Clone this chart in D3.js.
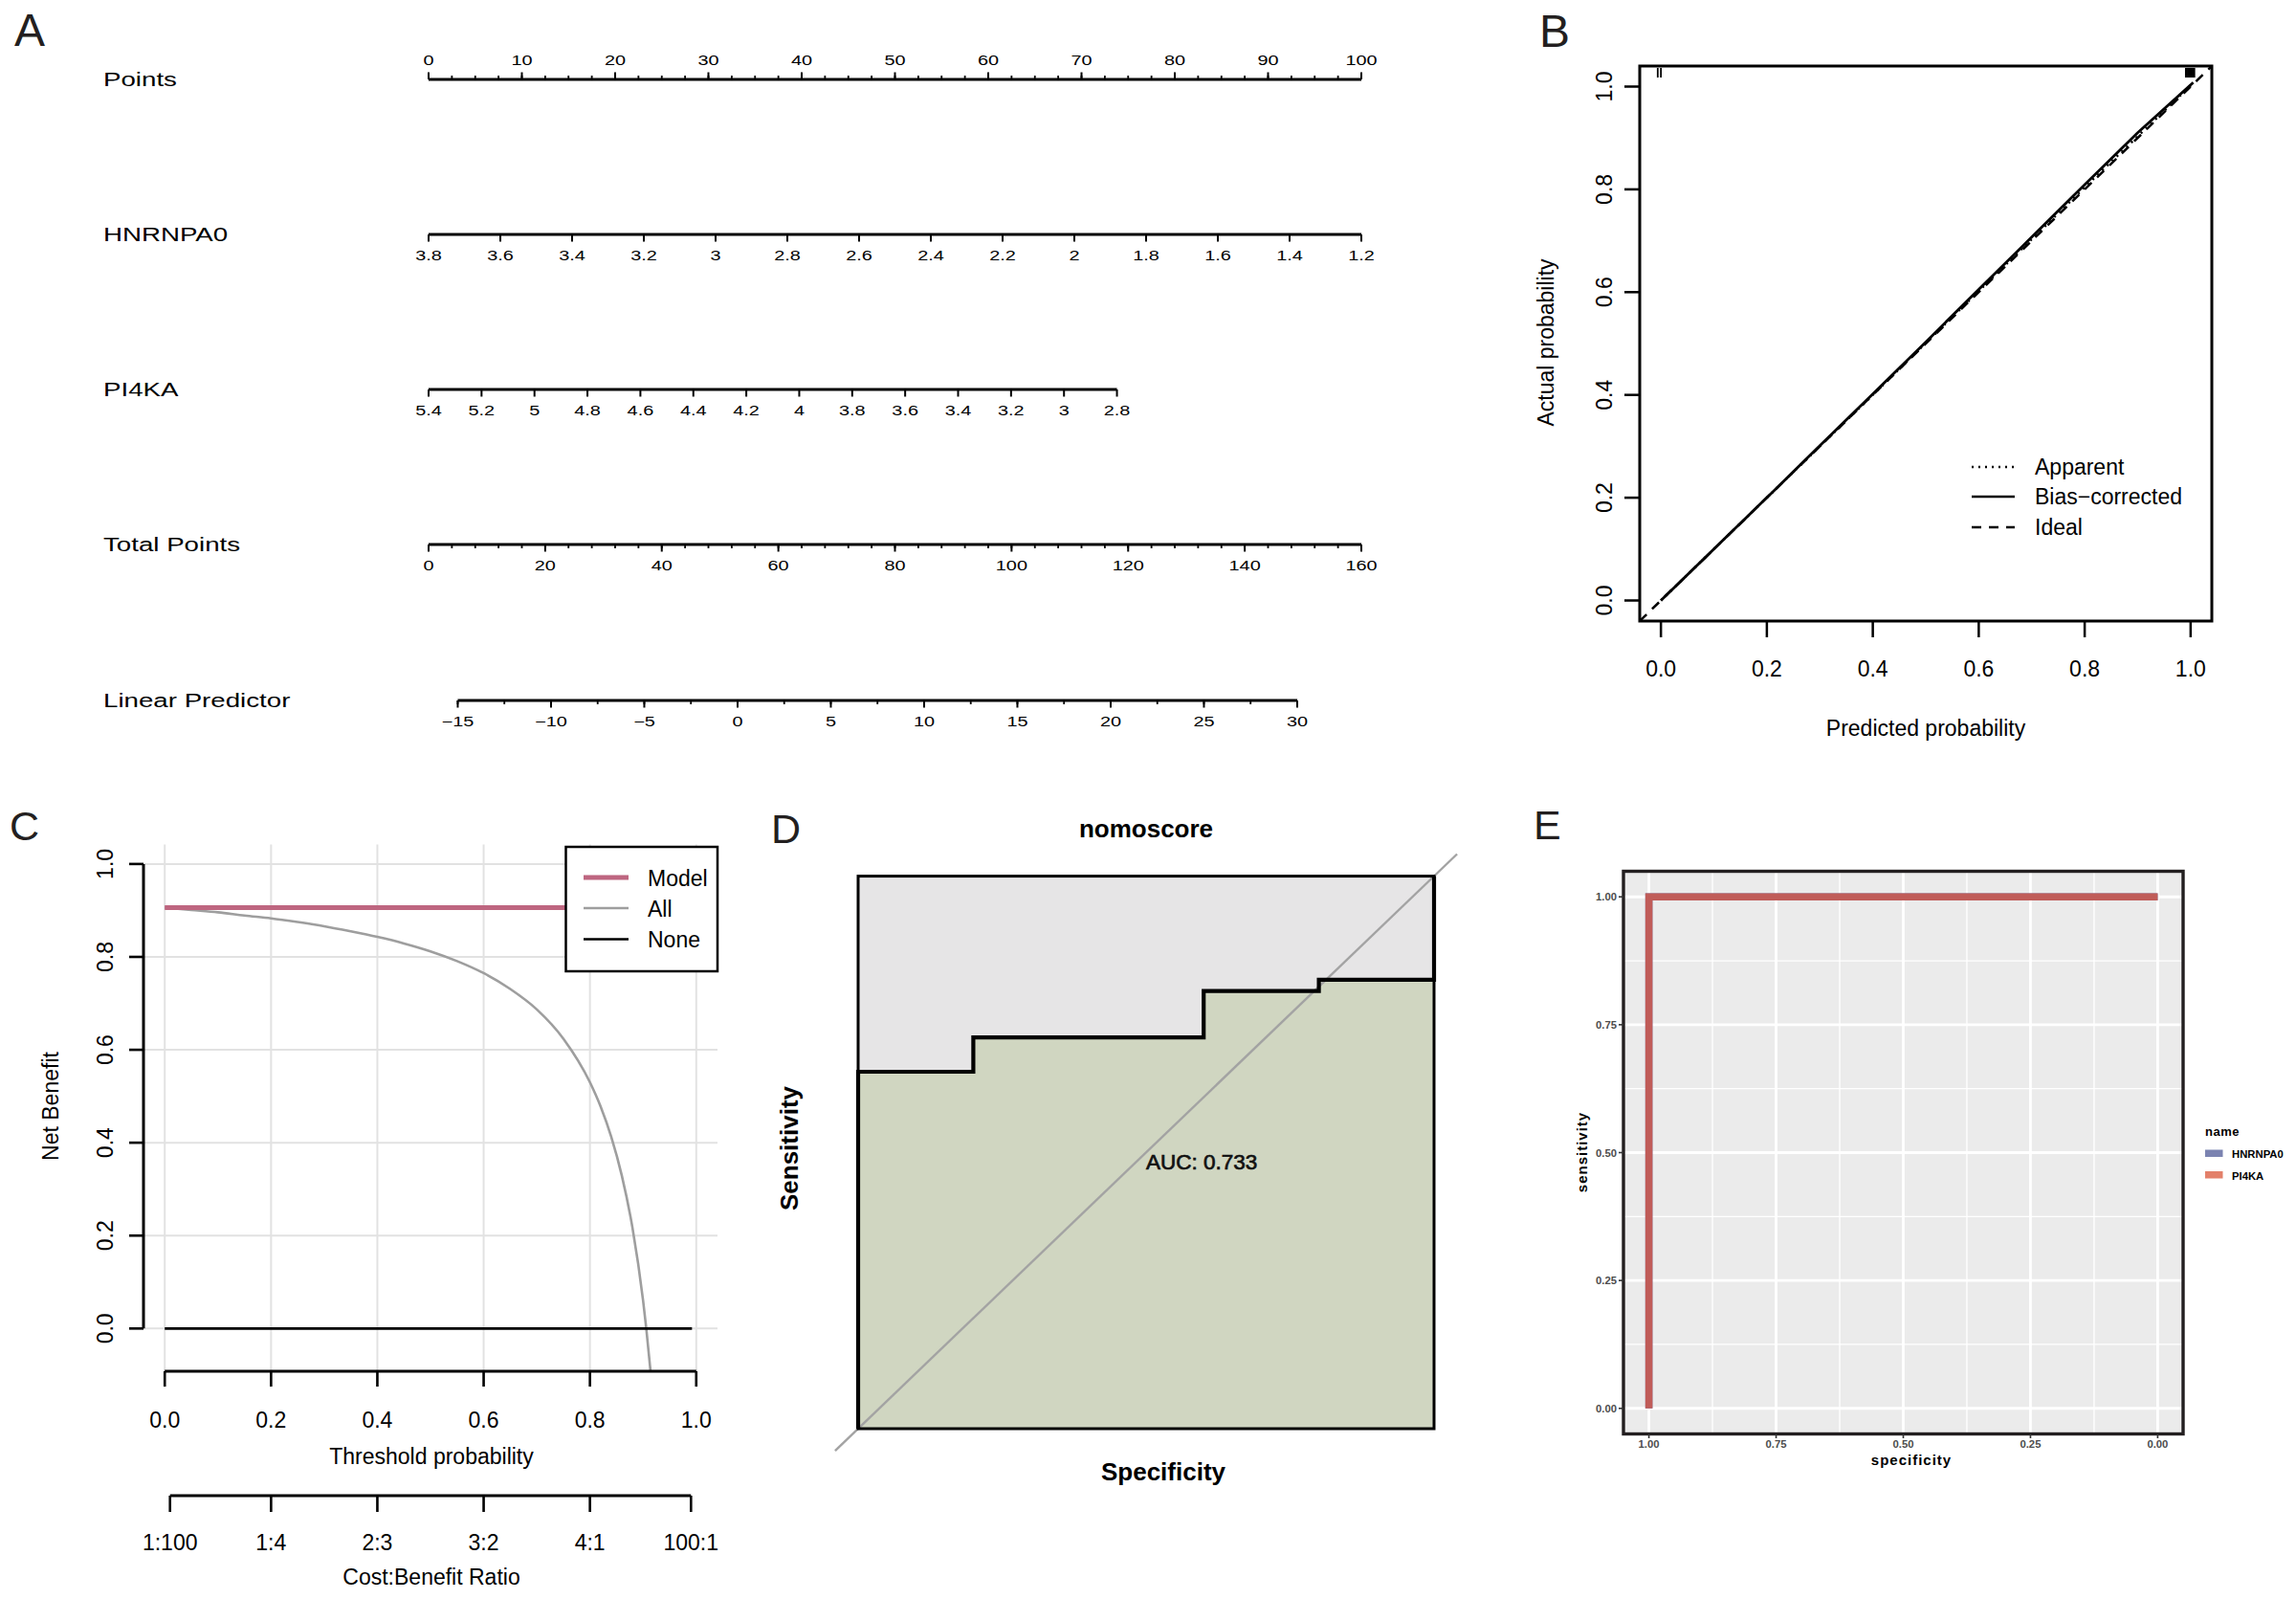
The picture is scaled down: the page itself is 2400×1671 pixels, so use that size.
<!DOCTYPE html>
<html><head><meta charset="utf-8">
<script src="https://cdn.jsdelivr.net/npm/d3@7"></script>
<style>
body{margin:0;background:#fff}
svg{display:block}
text{font-family:"Liberation Sans",Arial,Helvetica,sans-serif}
</style>
</head><body>
<svg id="c" width="2400" height="1671"></svg>
<script>
// ================= DATA =================
// Panel A: nomogram
const pointsTicks = [0,10,20,30,40,50,60,70,80,90,100];
const hnrnpa0Ticks = [3.8,3.6,3.4,3.2,3,2.8,2.6,2.4,2.2,2,1.8,1.6,1.4,1.2];
const hnrnpa0Labels = ["3.8","3.6","3.4","3.2","3","2.8","2.6","2.4","2.2","2","1.8","1.6","1.4","1.2"];
const hnrnpa0Range = [3.8,1.2];      // value range mapped to 0..100 points
const hnrnpa0Points = [0,100];
const pi4kaTicks = [5.4,5.2,5,4.8,4.6,4.4,4.2,4,3.8,3.6,3.4,3.2,3,2.8];
const pi4kaLabels = ["5.4","5.2","5","4.8","4.6","4.4","4.2","4","3.8","3.6","3.4","3.2","3","2.8"];
const pi4kaRange = [5.4,2.8];
const pi4kaPoints = [0,73.8];
const totalPointsTicks = [0,20,40,60,80,100,120,140,160];
const lpTicks = [-15,-10,-5,0,5,10,15,20,25,30];
const lpLabels = ["\u221215","\u221210","\u22125","0","5","10","15","20","25","30"];
const lpRange = [-15,30];
const lpTotalPoints = [5,149];

// Panel B: calibration
const calTicks = [0,0.2,0.4,0.6,0.8,1.0];
const calTickLabels = ["0.0","0.2","0.4","0.6","0.8","1.0"];
const idealX = [-0.04,1.04];
const idealY = [-0.04,1.04];
const biasX = [0,0.1,0.2,0.3,0.4,0.5,0.6,0.7,0.8,0.9,1.005];
const biasY = [0,0.1,0.2,0.301,0.402,0.503,0.605,0.707,0.809,0.91,1.008];
const apparentX = [0,0.1,0.2,0.3,0.4,0.5,0.6,0.7,0.8,0.9,1.0];
const apparentY = [0,0.1,0.2,0.3,0.4,0.501,0.602,0.703,0.804,0.903,1.002];
const rugLow = [-0.006,0.0];
const rugHigh = [0.991,0.993,0.995,0.997,0.999,1.001,1.003,1.005,1.007];
const calLegend = ["Apparent","Bias\u2212corrected","Ideal"];

// Panel C: decision curve
const dcaTicks = [0,0.2,0.4,0.6,0.8,1.0];
const dcaTickLabels = ["0.0","0.2","0.4","0.6","0.8","1.0"];
const costTicks = [0.0099,0.2,0.4,0.6,0.8,0.9901];
const costLabels = ["1:100","1:4","2:3","3:2","4:1","100:1"];
const modelThr = [0,0.99];
const modelNB = [0.906,0.906];
const allThr = [0,0.05,0.1,0.15,0.2,0.25,0.3,0.35,0.4,0.45,0.5,0.55,0.6,0.65,0.7,0.75,0.8,0.82,0.84,0.86,0.88,0.9,0.906,0.914];
const allNB  = [0.906,0.901,0.896,0.889,0.883,0.875,0.866,0.855,0.843,0.829,0.812,0.791,0.765,0.731,0.687,0.624,0.530,0.478,0.413,0.329,0.217,0.060,0.0,-0.092];
const noneThr = [0,0.992];
const noneNB = [0,0];
const dcaLegend = ["Model","All","None"];

// Panel D: ROC nomoscore
const rocSpec = [1,1,0.8,0.8,0.4,0.4,0.2,0.2,0,0];
const rocSens = [0,0.646,0.646,0.708,0.708,0.792,0.792,0.8125,0.8125,1];
const aucText = "AUC: 0.733";

// Panel E: ROC per gene
const eSeries = ["HNRNPA0","PI4KA"];
const eSpec = [[1,1,0],[1,1,0]];
const eSens = [[0,1,1],[0,1,1]];
const eLineColors = ["#6a74a6","#c05c58"];
const eKeyColors = ["#7b83b1","#e3806a"];
const eTicks = [0,0.25,0.5,0.75,1];
const eTickLabels = ["0.00","0.25","0.50","0.75","1.00"];
const eMinor = [0.125,0.375,0.625,0.875];

// ================= DRAW =================
const svg = d3.select("#c");
svg.append("rect").attr("width",2400).attr("height",1671).attr("fill","#fff");

function txt(g,x,y,s,o={}){
  const t=g.append("text").attr("x",x).attr("y",y).text(s)
    .style("font-size",(o.size||23)+"px")
    .attr("text-anchor",o.anchor||"start")
    .attr("fill",o.fill||"#000");
  if(o.weight) t.style("font-weight",o.weight);
  if(o.ls) t.style("letter-spacing",o.ls+"px");
  if(o.stroke) t.attr("stroke",o.fill||"#000").attr("stroke-width",o.stroke);
  if(o.rotate) t.attr("transform",`rotate(-90,${x},${y})`);
  return t;
}
function seg(g,x1,y1,x2,y2,w,c,dash){
  const l=g.append("line").attr("x1",x1).attr("y1",y1).attr("x2",x2).attr("y2",y2)
    .attr("stroke",c||"#000").attr("stroke-width",w||2);
  if(dash) l.attr("stroke-dasharray",dash);
  return l;
}

// panel letters
const letterG = svg.append("g");
[["A",15,48,48],["B",1609,49,48],["C",10,878,43],["D",806,881,43],["E",1603,877,43]].forEach(d=>{
  txt(letterG,d[1],d[2],d[0],{size:d[3],fill:"#231f20"});
});

// ---------- Panel A ----------
const gA = svg.append("g");
const STRETCH = 1.42;
function stxt(x,y,s,size,anchor){
  gA.append("text").attr("transform",`translate(${x},${y}) scale(${STRETCH},1)`)
    .attr("text-anchor",anchor).style("font-size",size+"px").attr("fill","#000").text(s);
}
const ptsX = d3.scaleLinear([0,100],[448,1423]);
const totX = d3.scaleLinear([0,160],[448,1423]);
const hnPts = d3.scaleLinear(hnrnpa0Range,hnrnpa0Points);
const piPts = d3.scaleLinear(pi4kaRange,pi4kaPoints);
const lpTot = d3.scaleLinear(lpRange,lpTotalPoints);

const rows = [
  {name:"Points",y:83,ticks:pointsTicks,labels:pointsTicks.map(String),pos:v=>ptsX(v),minor:d3.range(0,100.01,2.5),up:true},
  {name:"HNRNPA0",y:245,ticks:hnrnpa0Ticks,labels:hnrnpa0Labels,pos:v=>ptsX(hnPts(v)),minor:[]},
  {name:"PI4KA",y:407,ticks:pi4kaTicks,labels:pi4kaLabels,pos:v=>ptsX(piPts(v)),minor:[]},
  {name:"Total Points",y:569,ticks:totalPointsTicks,labels:totalPointsTicks.map(String),pos:v=>totX(v),minor:d3.range(0,160.01,4)},
  {name:"Linear Predictor",y:732,ticks:lpTicks,labels:lpLabels,pos:v=>totX(lpTot(v)),minor:d3.range(-15,30.01,2.5)}
];
rows.forEach(r=>{
  stxt(108,r.y+7,r.name,19.5,"start");
  const xs = r.ticks.map(r.pos);
  seg(gA,d3.min(xs),r.y,d3.max(xs),r.y,3.2);
  const dir = r.up?-1:1;
  r.minor.forEach(v=>seg(gA,r.pos(v),r.y,r.pos(v),r.y+dir*4,1.8));
  r.ticks.forEach((v,i)=>{
    seg(gA,r.pos(v),r.y,r.pos(v),r.y+dir*7.5,2);
    stxt(r.pos(v), r.up? r.y-15 : r.y+27, r.labels[i], 14, "middle");
  });
});

// ---------- Panel B ----------
const gB = svg.append("g");
const xB = d3.scaleLinear([-0.04,1.04],[1714,2312]);
const yB = d3.scaleLinear([-0.04,1.04],[649,69]);
svg.append("clipPath").attr("id","clipB").append("rect")
  .attr("x",1714).attr("y",69).attr("width",598).attr("height",580);
const lineB = d3.line().x(d=>xB(d[0])).y(d=>yB(d[1]));
const gBc = gB.append("g").attr("clip-path","url(#clipB)");
gBc.append("path").attr("d",lineB(d3.zip(idealX,idealY))).attr("fill","none")
  .attr("stroke","#000").attr("stroke-width",2.5).attr("stroke-dasharray","10,8");
gBc.append("path").attr("d",lineB(d3.zip(apparentX,apparentY))).attr("fill","none")
  .attr("stroke","#000").attr("stroke-width",2.5).attr("stroke-dasharray","2,5");
gBc.append("path").attr("d",lineB(d3.zip(biasX,biasY))).attr("fill","none")
  .attr("stroke","#000").attr("stroke-width",2.8);
rugLow.concat(rugHigh).forEach(v=>seg(gB,xB(v),71,xB(v),81,1.8));
gB.append("rect").attr("x",1714).attr("y",69).attr("width",598).attr("height",580)
  .attr("fill","none").attr("stroke","#000").attr("stroke-width",3);
calTicks.forEach((v,i)=>{
  seg(gB,xB(v),649,xB(v),666,2.5);
  txt(gB,xB(v),707,calTickLabels[i],{anchor:"middle",size:23});
  seg(gB,1714,yB(v),1698,yB(v),2.5);
  txt(gB,1685,yB(v),calTickLabels[i],{anchor:"middle",size:23,rotate:true});
});
txt(gB,2013,769,"Predicted probability",{anchor:"middle",size:23});
txt(gB,1624,358,"Actual probability",{anchor:"middle",size:23,rotate:true});
const legBY=[488,519,551];
const legBDash=["2,5",null,"10,8"];
calLegend.forEach((s,i)=>{
  seg(gB,2061,legBY[i],2106,legBY[i],2.5,"#000",legBDash[i]);
  txt(gB,2127,legBY[i]+8,s,{size:23});
});

// ---------- Panel C ----------
const gC = svg.append("g");
const xC = d3.scaleLinear([-0.04,1.04],[150,750]);
const yC = d3.scaleLinear([-0.092,1.042],[1433,882.5]);
const grid = "#e2e2e2";
dcaTicks.forEach(v=>{
  seg(gC,xC(v),882.5,xC(v),1433,2,grid);
  seg(gC,150,yC(v),750,yC(v),2,grid);
});
const lineC = d3.line().x(d=>xC(d[0])).y(d=>yC(d[1]));
gC.append("path").attr("d",lineC.curve(d3.curveMonotoneX)(d3.zip(allThr,allNB)))
  .attr("fill","none").attr("stroke","#9e9e9e").attr("stroke-width",2.6);
lineC.curve(d3.curveLinear);
gC.append("path").attr("d",lineC(d3.zip(noneThr,noneNB))).attr("fill","none")
  .attr("stroke","#000").attr("stroke-width",2.6);
gC.append("path").attr("d",lineC(d3.zip(modelThr,modelNB))).attr("fill","none")
  .attr("stroke","#be6680").attr("stroke-width",5);
// y axis
seg(gC,150,yC(0),150,yC(1),3);
dcaTicks.forEach((v,i)=>{
  seg(gC,150,yC(v),135,yC(v),2.6);
  txt(gC,118,yC(v),dcaTickLabels[i],{anchor:"middle",size:23,rotate:true});
});
txt(gC,61,1156,"Net Benefit",{anchor:"middle",size:23,rotate:true});
// x axis
seg(gC,xC(0),1433,xC(1),1433,3);
dcaTicks.forEach((v,i)=>{
  seg(gC,xC(v),1433,xC(v),1449,2.6);
  txt(gC,xC(v),1492,dcaTickLabels[i],{anchor:"middle",size:23});
});
txt(gC,451,1530,"Threshold probability",{anchor:"middle",size:23});
seg(gC,xC(costTicks[0]),1563,xC(costTicks[costTicks.length-1]),1563,3);
costTicks.forEach((v,i)=>{
  seg(gC,xC(v),1563,xC(v),1580,2.6);
  txt(gC,xC(v),1620,costLabels[i],{anchor:"middle",size:23});
});
txt(gC,451,1656,"Cost:Benefit Ratio",{anchor:"middle",size:23});
// legend
gC.append("rect").attr("x",591.5).attr("y",885).attr("width",158.5).attr("height",130)
  .attr("fill","#fff").attr("stroke","#000").attr("stroke-width",2.5);
const legCY=[917,949,981.5];
const legCCol=["#be6680","#9e9e9e","#000"];
const legCW=[5,2.4,2.6];
dcaLegend.forEach((s,i)=>{
  seg(gC,610,legCY[i],657,legCY[i],legCW[i],legCCol[i]);
  txt(gC,677,legCY[i]+8.5,s,{size:23});
});

// ---------- Panel D ----------
const gD = svg.append("g");
const xD = d3.scaleLinear([1,0],[897,1499]);
const yD = d3.scaleLinear([0,1],[1493,915.6]);
gD.append("rect").attr("x",xD(1)).attr("y",yD(1)).attr("width",xD(0)-xD(1)).attr("height",yD(0)-yD(1))
  .attr("fill","#e6e5e6");
const rocPts = d3.zip(rocSpec,rocSens);
gD.append("path").attr("d",d3.area().x(d=>xD(d[0])).y0(yD(0)).y1(d=>yD(d[1]))(rocPts))
  .attr("fill","#d0d6c1");
gD.append("path").attr("d",d3.line().x(d=>xD(d[0])).y(d=>yD(d[1]))([[1.04,-0.04],[-0.04,1.04]]))
  .attr("stroke","#a3a3a3").attr("stroke-width",2.4).attr("fill","none");
gD.append("rect").attr("x",xD(1)).attr("y",yD(1)).attr("width",xD(0)-xD(1)).attr("height",yD(0)-yD(1))
  .attr("fill","none").attr("stroke","#000").attr("stroke-width",3);
gD.append("path").attr("d",d3.line().x(d=>xD(d[0])).y(d=>yD(d[1]))(rocPts))
  .attr("fill","none").attr("stroke","#000").attr("stroke-width",4.2).attr("stroke-linejoin","miter");
txt(gD,1198,875,"nomoscore",{anchor:"middle",size:26,weight:"bold"});
txt(gD,xD(0.5),1222,aucText,{size:22.5,fill:"#111",stroke:0.7});
txt(gD,834,1200,"Sensitivity",{anchor:"middle",size:26,weight:"bold",rotate:true});
txt(gD,1216,1547,"Specificity",{anchor:"middle",size:26,weight:"bold"});

// ---------- Panel E ----------
const gE = svg.append("g");
const xE = d3.scaleLinear([1.05,-0.05],[1697,2282]);
const yE = d3.scaleLinear([-0.05,1.05],[1498.5,910.5]);
gE.append("rect").attr("x",1697).attr("y",910.5).attr("width",585).attr("height",588).attr("fill","#ebebeb");
eMinor.forEach(v=>{
  seg(gE,xE(v),910.5,xE(v),1498.5,1.3,"#fff");
  seg(gE,1697,yE(v),2282,yE(v),1.3,"#fff");
});
eTicks.forEach(v=>{
  seg(gE,xE(v),910.5,xE(v),1498.5,2.8,"#fff");
  seg(gE,1697,yE(v),2282,yE(v),2.8,"#fff");
});
const lineE = d3.line().x(d=>xE(d[0])).y(d=>yE(d[1]));
eSeries.forEach((s,i)=>{
  gE.append("path").attr("d",lineE(d3.zip(eSpec[i],eSens[i]))).attr("fill","none")
    .attr("stroke",eLineColors[i]).attr("stroke-width",7.5).attr("stroke-linejoin","miter").attr("stroke-linecap","butt");
});
gE.append("rect").attr("x",1697).attr("y",910.5).attr("width",585).attr("height",588)
  .attr("fill","none").attr("stroke","#231f20").attr("stroke-width",3.4);
eTicks.forEach((v,i)=>{
  seg(gE,1692,yE(v),1697,yE(v),1.6,"#333");
  txt(gE,1690,yE(v)+4,eTickLabels[i],{anchor:"end",size:11.3,fill:"#4d4d4d",weight:"bold"});
  seg(gE,xE(v),1498.5,xE(v),1503,1.6,"#333");
  txt(gE,xE(v),1513,eTickLabels[i],{anchor:"middle",size:11.3,fill:"#4d4d4d",weight:"bold"});
});
txt(gE,1998,1531,"specificity",{anchor:"middle",size:15,weight:"bold",ls:1});
txt(gE,1659,1204,"sensitivity",{anchor:"middle",size:15,weight:"bold",ls:1,rotate:true});
txt(gE,2305,1187,"name",{size:13,weight:"bold",ls:0.5});
const keyY=[1201.5,1224];
eSeries.forEach((s,i)=>{
  gE.append("rect").attr("x",2305).attr("y",keyY[i]).attr("width",18.5).attr("height",7.5).attr("fill",eKeyColors[i]);
  txt(gE,2333,keyY[i]+8.5,s,{size:11.3,weight:"bold"});
});
</script>
</body></html>
